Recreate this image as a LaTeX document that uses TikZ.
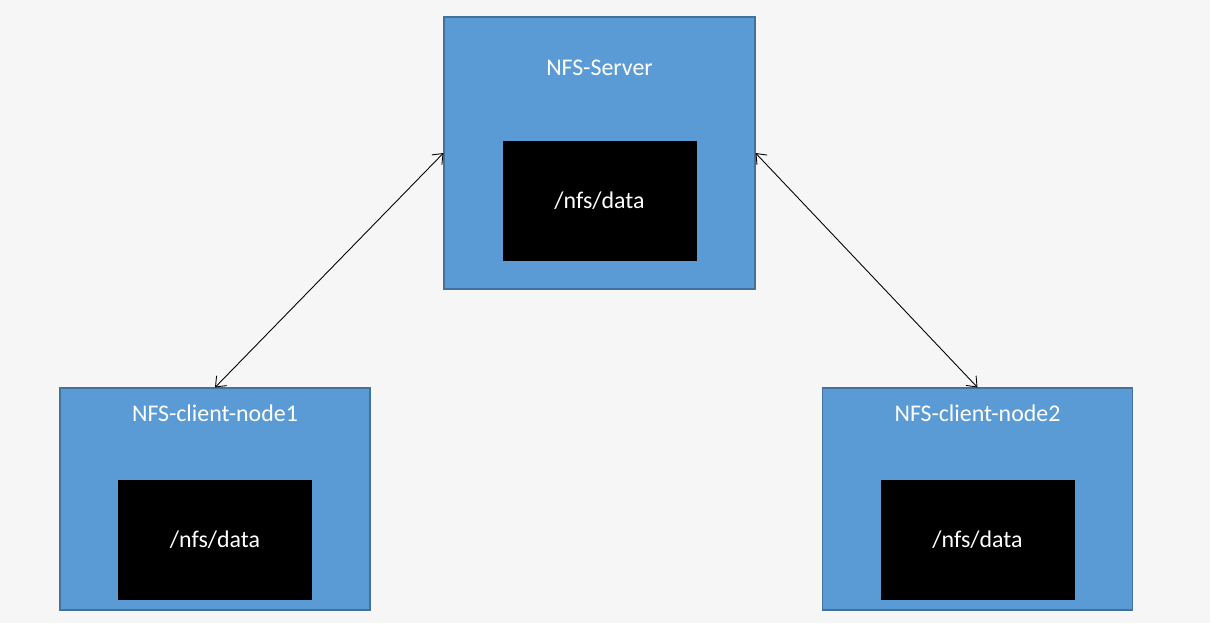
\documentclass[tikz,border=0pt]{standalone}
\usepackage{fontspec}
\setmainfont{Carlito}
\usepackage{xcolor}
\usepackage{tikz}
\usetikzlibrary{arrows.meta, positioning, calc}
\definecolor{nfs-blue}{HTML}{5B9BD5}
\definecolor{nfs-edge}{HTML}{41719C}
\definecolor{nfs-bg}{HTML}{F6F6F6}

\begin{document}
\begin{tikzpicture}[
    host/.style={draw=nfs-edge, fill=nfs-blue, line width=0.6pt, minimum width=6.2cm, minimum height=4.44cm, inner sep=0pt},
    server/.style={minimum width=6.22cm, minimum height=5.44cm},
    databox/.style={fill=black, minimum width=3.88cm, minimum height=2.4cm, inner sep=0pt, text=white, font=\fontsize{13.6}{16}\selectfont},
    hostlabel/.style={text=white, font=\fontsize{13.6}{16}\selectfont, inner sep=0pt},
    link/.style={{Straight Barb[length=5pt, width=8pt]}-{Straight Barb[length=5pt, width=8pt]}, line width=0.5pt}
]
    \fill [nfs-bg] (0,0) rectangle (24.2,-12.46);
    \useasboundingbox (0,0) rectangle (24.2,-12.46);

    \node (nfsserver) [host, server] at (11.99, -3.06) {};
    \node (client1) [host] at (4.3, -9.98) {};
    \node (client2) [host] at (19.55, -9.98) {};

    \node (serverlabel) [hostlabel] at ([yshift=-1.02cm]nfsserver.north) {NFS-Server};
    \node (client1label) [hostlabel] at ([yshift=-0.52cm]client1.north) {NFS-client-node1};
    \node (client2label) [hostlabel] at ([yshift=-0.52cm]client2.north) {NFS-client-node2};

    \node (serverdata) [databox, below=2.48cm of nfsserver.north] {/nfs/data};
    \node (client1data) [databox, below=1.84cm of client1.north] {/nfs/data};
    \node (client2data) [databox, below=1.84cm of client2.north] {/nfs/data};

    \draw [link] (nfsserver.west) -- (client1.north);
    \draw [link] (nfsserver.east) -- (client2.north);
\end{tikzpicture}
\end{document}
